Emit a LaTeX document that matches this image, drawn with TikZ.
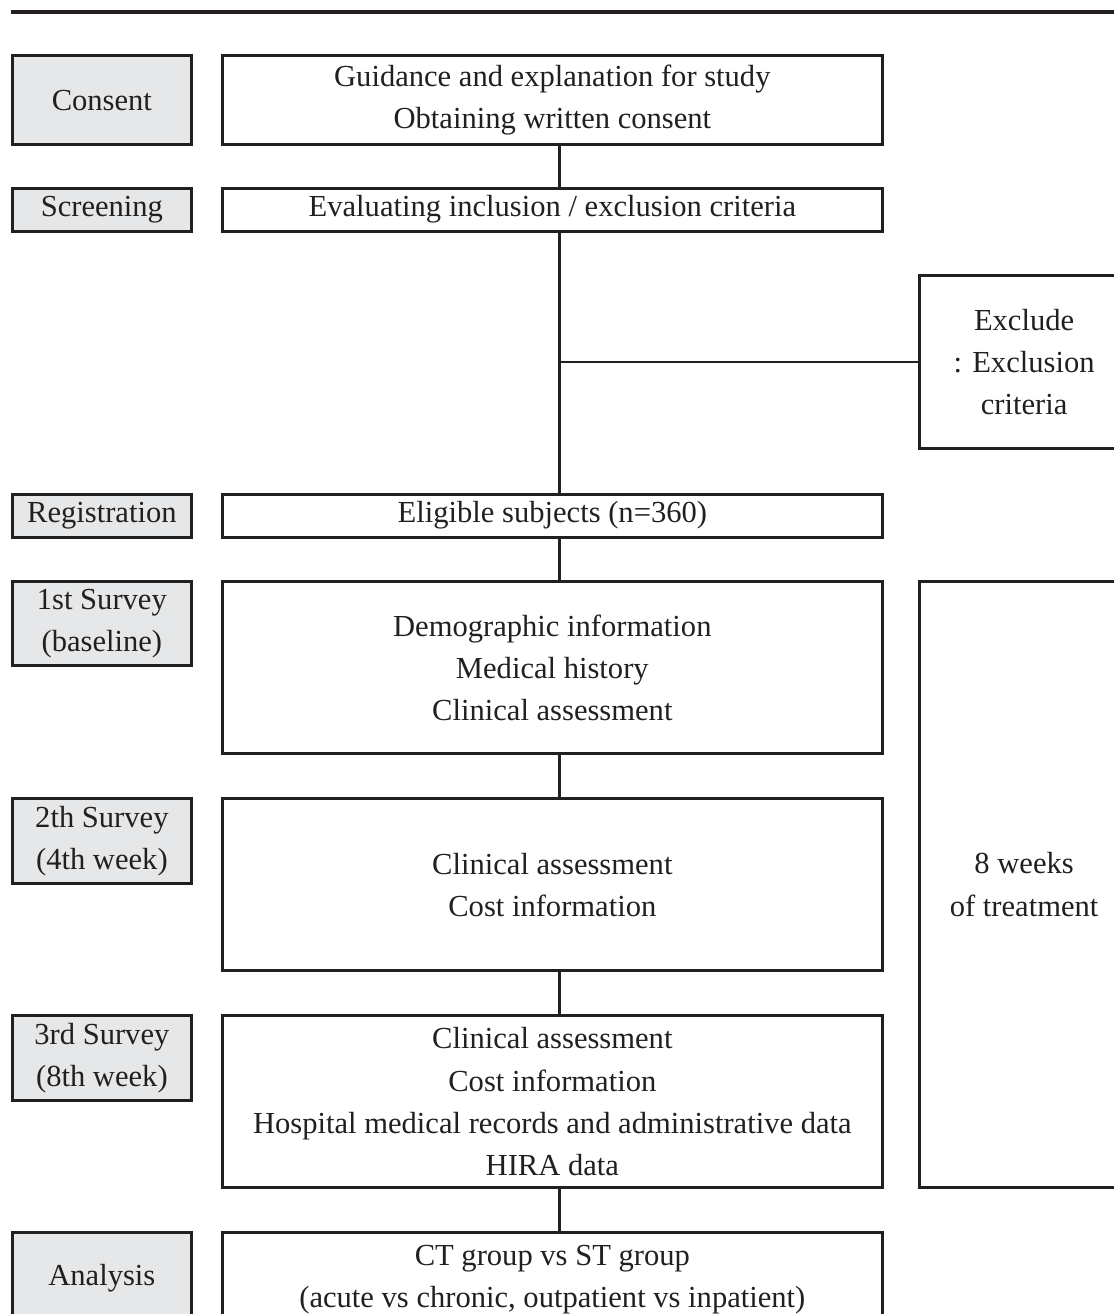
\documentclass[tikz,border=0pt]{standalone}
\usepackage{fontspec}
\setmainfont{Liberation Serif}
\usetikzlibrary{positioning}
\definecolor{ink}{HTML}{231F20}
\definecolor{stagegrey}{HTML}{E6E7E8}
\tikzset{
  rule/.style={
    draw=ink,
    line width=1.8pt
  },
  link/.style={
    draw=ink,
    line width=1.5pt
  },
  stagebox/.style={
    draw=ink,
    fill=stagegrey,
    line width=1.6pt,
    anchor=north west,
    minimum width=3.58cm,
    inner sep=0pt,
    align=center
  },
  infobox/.style={
    draw=ink,
    fill=white,
    line width=1.6pt,
    anchor=north west,
    minimum width=13.2cm,
    inner sep=0pt,
    align=center
  },
  sidebox/.style={
    draw=ink,
    fill=white,
    line width=1.6pt,
    anchor=north west,
    minimum width=4.2cm,
    inner sep=0pt,
    align=center
  }
}

\begin{document}
\begin{tikzpicture}[x=0.02cm, y=-0.02cm, text=ink,
    font=\fontsize{17.4pt}{24pt}\selectfont]
  \useasboundingbox (0,0) rectangle (1114,1314);
  \clip (0,0) rectangle (1114,1314);
  \draw[rule] (11,12) -- (1130,12);
  \coordinate (spine) at (559.3,0);

  % Stage column.
  \node[stagebox, minimum height=1.78cm] (consent) at (11,54.3) {Consent};
  \node[stagebox, minimum height=0.86cm] (screening) at (11,186.7) {Screening};
  \node[stagebox, minimum height=0.86cm] (registration) at (11,492.7)
    {Registration};
  \node[stagebox, minimum height=1.69cm] (survey1) at (11,580)
    {1st Survey\\(baseline)};
  \node[stagebox, minimum height=1.70cm] (survey2) at (11,797.3)
    {2th Survey\\(4th week)};
  \node[stagebox, minimum height=1.70cm] (survey3) at (11,1014)
    {3rd Survey\\(8th week)};
  \node[stagebox, minimum height=1.85cm] (analysis) at (11,1230.7)
    {Analysis};

  % Main column.
  \node[infobox, minimum height=1.78cm] (guide) at (221,54.3)
    {Guidance and explanation for study\\Obtaining written consent};
  \node[infobox, minimum height=0.86cm] (evaluate) at (221,186.7)
    {Evaluating inclusion / exclusion criteria};
  \node[infobox, minimum height=0.86cm] (eligible) at (221,492.7)
    {Eligible subjects (n=360)};
  \node[infobox, minimum height=3.45cm] (baseline) at (221,580)
    {Demographic information\\Medical history\\Clinical assessment};
  \node[infobox, minimum height=3.44cm] (week4) at (221,797.3)
    {Clinical assessment\\Cost information};
  \node[infobox, minimum height=3.45cm] (week8) at (221,1014)
    {Clinical assessment\\Cost information\\
     Hospital medical records and administrative data\\HIRA data};
  \node[infobox, minimum height=1.9cm] (compare) at (221,1230.7)
    {CT group vs ST group\\(acute vs chronic, outpatient vs inpatient)};

  % Side column.
  \node[sidebox, minimum height=3.47cm] (exclude) at (917.7,274)
    {Exclude\\: Exclusion\\criteria};
  \node[sidebox, minimum height=12.13cm] (treatment) at (917.7,580)
    {8 weeks\\of treatment};

  % Connectors.
  \draw[link] (guide.south -| spine) -- (evaluate.north -| spine);
  \draw[link] (evaluate.south -| spine) -- (eligible.north -| spine);
  \draw[link] (exclude.west -| spine) -- (exclude.west);
  \draw[link] (eligible.south -| spine) -- (baseline.north -| spine);
  \draw[link] (baseline.south -| spine) -- (week4.north -| spine);
  \draw[link] (week4.south -| spine) -- (week8.north -| spine);
  \draw[link] (week8.south -| spine) -- (compare.north -| spine);
\end{tikzpicture}
\end{document}
